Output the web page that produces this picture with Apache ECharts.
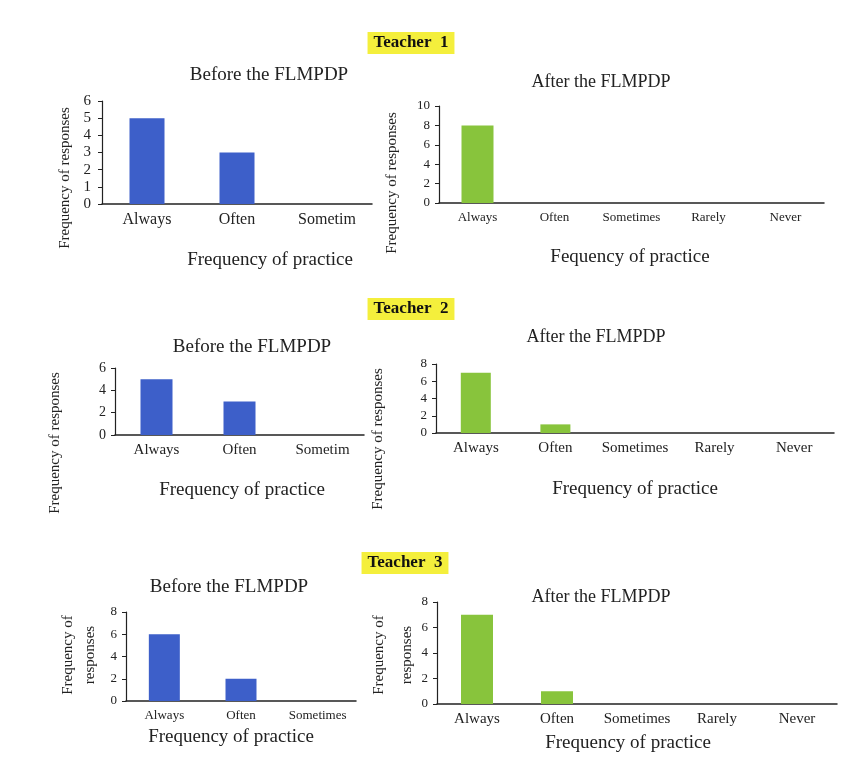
<!DOCTYPE html>
<html>
<head>
<meta charset="utf-8">
<script src="https://cdn.jsdelivr.net/npm/echarts@6/dist/echarts.min.js"></script>
<style>
  html, body { margin: 0; padding: 0; background: #ffffff; }
  #chart { width: 845px; height: 767px; }
</style>
</head>
<body>
<div id="chart"></div>
<script>
// Practice categories
const categoriesBefore = ['Always', 'Often', 'Sometimes'];
const categoriesAfter = ['Always', 'Often', 'Sometimes', 'Rarely', 'Never'];

// Frequency of responses per teacher
const teacher1Before = [5, 3, 0];
const teacher1After = [8, 0, 0, 0, 0];
const teacher2Before = [5, 3, 0];
const teacher2After = [7, 1, 0, 0, 0];
const teacher3Before = [6, 2, 0];
const teacher3After = [7, 1, 0, 0, 0];

// Value-axis ranges: [max, interval] per panel
const axisT1Before = [6, 1];
const axisT1After = [10, 2];
const axisT2Before = [6, 2];
const axisT2After = [8, 2];
const axisT3Before = [8, 2];
const axisT3After = [8, 2];

// Headings
const teacherLabels = ['Teacher  1', 'Teacher  2', 'Teacher  3'];
const beforeTitle = 'Before the FLMPDP';
const afterTitle = 'After the FLMPDP';
const yName = 'Frequency of responses';
const yNameTwoLine = 'Frequency of\nresponses';
const xName = 'Frequency of practice';
const xNameT1After = 'Fequency of practice';

const SERIF = '"Liberation Serif", "Times New Roman", serif';
const BLUE = '#3d5fc9';
const GREEN = '#88c43c';
const INK = '#222222';

// Panel layout: grid box, bar width and font sizes
const panels = [
  { cats: categoriesBefore, data: teacher1Before, axis: axisT1Before, color: BLUE,
    grid: { left: 102, top: 101, width: 270, height: 103 }, barWidth: 35, yFont: 15, xFont: 16, yMargin: 11, trunc: 62 },
  { cats: categoriesAfter, data: teacher1After, axis: axisT1After, color: GREEN,
    grid: { left: 439, top: 106, width: 385, height: 97 }, barWidth: 32, yFont: 13, xFont: 13, yMargin: 9 },
  { cats: categoriesBefore, data: teacher2Before, axis: axisT2Before, color: BLUE,
    grid: { left: 115, top: 368, width: 249, height: 67 }, barWidth: 32, yFont: 14, xFont: 15, yMargin: 9, trunc: 56 },
  { cats: categoriesAfter, data: teacher2After, axis: axisT2After, color: GREEN,
    grid: { left: 436, top: 364, width: 398, height: 69 }, barWidth: 30, yFont: 13, xFont: 15, yMargin: 9 },
  { cats: categoriesBefore, data: teacher3Before, axis: axisT3Before, color: BLUE,
    grid: { left: 126, top: 612, width: 230, height: 89 }, barWidth: 31, yFont: 13, xFont: 13, yMargin: 9 },
  { cats: categoriesAfter, data: teacher3After, axis: axisT3After, color: GREEN,
    grid: { left: 437, top: 602, width: 400, height: 102 }, barWidth: 32, yFont: 13, xFont: 15, yMargin: 9 }
];

const grids = [], xAxes = [], yAxes = [], series = [];
panels.forEach((p, i) => {
  grids.push(Object.assign({ containLabel: false }, p.grid));
  const xLabel = {
    interval: 0, margin: 8, color: INK,
    fontFamily: SERIF, fontSize: p.xFont
  };
  if (p.trunc) {
    xLabel.width = p.trunc;
    xLabel.overflow = 'truncate';
    xLabel.ellipsis = '';
  }
  xAxes.push({
    type: 'category', gridIndex: i, data: p.cats,
    axisLine: { show: true, lineStyle: { color: INK, width: 1.5 } },
    axisTick: { show: false },
    axisLabel: xLabel
  });
  yAxes.push({
    type: 'value', gridIndex: i, min: 0, max: p.axis[0], interval: p.axis[1],
    axisLine: { show: true, lineStyle: { color: INK, width: 1.2 } },
    axisTick: { show: true, length: 4, lineStyle: { color: INK } },
    splitLine: { show: false },
    axisLabel: { margin: p.yMargin, color: INK, fontFamily: SERIF, fontSize: p.yFont }
  });
  series.push({
    type: 'bar', xAxisIndex: i, yAxisIndex: i, data: p.data,
    barWidth: p.barWidth,
    itemStyle: { color: p.color },
    silent: true
  });
});

// Free-standing text: headings, panel titles, axis titles
function label(text, x, y, size, opts) {
  opts = opts || {};
  return {
    type: 'text', x: x, y: y, rotation: opts.rotate ? Math.PI / 2 : 0,
    style: Object.assign({
      text: text, fill: INK,
      font: (opts.bold ? 'bold ' : '') + size + 'px ' + SERIF,
      align: 'center', verticalAlign: 'middle'
    }, opts.style || {})
  };
}
const teacherStyle = { backgroundColor: '#f4ef3c', padding: [3, 6, 2, 6], fill: '#111' };

const graphics = [
  label(teacherLabels[0], 411, 43, 17, { bold: true, style: teacherStyle }),
  label(teacherLabels[1], 411, 309, 17, { bold: true, style: teacherStyle }),
  label(teacherLabels[2], 405, 563, 17, { bold: true, style: teacherStyle }),

  label(beforeTitle, 269, 75, 19),
  label(afterTitle, 601, 82, 18),
  label(beforeTitle, 252, 347, 19),
  label(afterTitle, 596, 337, 18),
  label(beforeTitle, 229, 587, 19),
  label(afterTitle, 601, 597, 18),

  label(xName, 270, 260, 19),
  label(xNameT1After, 630, 257, 19),
  label(xName, 242, 490, 19),
  label(xName, 635, 489, 19),
  label(xName, 231, 737, 19),
  label(xName, 628, 743, 19),

  label(yName, 65, 178, 15, { rotate: true }),
  label(yName, 392, 183, 15, { rotate: true }),
  label(yName, 55, 443, 15, { rotate: true }),
  label(yName, 378, 439, 15, { rotate: true }),
  label(yNameTwoLine, 79, 655, 15, { rotate: true, style: { lineHeight: 22 } }),
  label(yNameTwoLine, 393, 655, 15, { rotate: true, style: { lineHeight: 28 } })
];

const chart = echarts.init(document.getElementById('chart'), null, { renderer: 'canvas' });
chart.setOption({
  backgroundColor: '#ffffff',
  animation: false,
  grid: grids,
  xAxis: xAxes,
  yAxis: yAxes,
  series: series,
  graphic: graphics
});
</script>
</body>
</html>
